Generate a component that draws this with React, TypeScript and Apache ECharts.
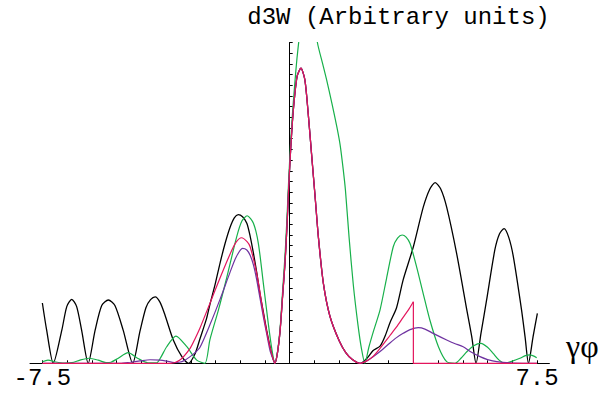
import * as echarts from "echarts";
import { useEffect, useRef } from "react";

// x ticks and labels
const xTickValues = [
  -7.5, -6.75, -6, -5.25, -4.5, -3.75, -3, -2.25, -1.5, -0.75, 0, 0.75, 1.5, 2.25, 3, 3.75, 4.5, 5.25,
  6, 6.75, 7.5,
];
const xLabelValues = [-7.5, 7.5];
const titleText = "d3W (Arbitrary units)";
const xName = "γφ";

// central lobe shared by black, red, purple
const mainPeak: number[][] = [
  [-0.37, 1.0], [-0.29, 3.1], [-0.21, 6.5], [-0.14, 9.5], [-0.08, 13.0], [-0.03, 16.5], [0.02, 19.5],
  [0.08, 22.5], [0.15, 25.0], [0.23, 26.9], [0.34, 27.6], [0.46, 26.5], [0.56, 23.4], [0.67, 19.3],
  [0.77, 15.6], [0.87, 11.8], [1.02, 7.5], [1.22, 4.4], [1.5, 2.1], [1.7, 1.0], [1.9, 0.35],
];

const blackLeft: number[][] = [
  [-7.5, 5.64], [-7.37, 3.1], [-7.17, 0], [-6.91, 3.1], [-6.76, 5.3], [-6.61, 5.98], [-6.46, 5.3],
  [-6.31, 3.1], [-6.11, 0], [-5.9, 3.1], [-5.7, 5.4], [-5.5, 5.92], [-5.3, 5.4], [-5.05, 3.1],
  [-4.76, 0], [-4.54, 3.0], [-4.36, 5.2], [-4.22, 5.95], [-4.08, 6.22], [-3.93, 5.7], [-3.78, 4.5],
  [-3.53, 2.18], [-3.27, 0.62], [-3.07, 0], [-2.87, 0.9], [-2.72, 2.3], [-2.52, 4.2], [-2.42, 5.5],
  [-2.26, 7.4], [-2.11, 9.4], [-1.96, 11.2], [-1.81, 12.7], [-1.68, 13.6], [-1.56, 13.9],
  [-1.43, 13.7], [-1.3, 13.1], [-1.2, 11.9], [-1.1, 10.3], [-1.0, 8.5], [-0.9, 6.5], [-0.8, 4.8],
  [-0.7, 3.1], [-0.6, 1.6], [-0.52, 0.6], [-0.45, 0],
];
const blackRight: number[][] = [
  [2.15, 0], [2.35, 0.5], [2.53, 1.2], [2.74, 1.6], [2.9, 2.6], [3.04, 3.8], [3.24, 5.2], [3.44, 7.8],
  [3.75, 10.9], [4.05, 14.6], [4.25, 16.3], [4.41, 16.9], [4.58, 16.3], [4.76, 14.6], [5.06, 10.3],
  [5.37, 5.0], [5.52, 2.5], [5.65, 0], [5.8, 2.8], [5.97, 5.9], [6.22, 10.6], [6.36, 12.1],
  [6.5, 12.6], [6.64, 11.8], [6.78, 10.0], [7.03, 5.0], [7.14, 2.4], [7.24, 0], [7.38, 2.5],
  [7.51, 4.67],
];

const redLeft: number[][] = [
  [-7.5, 0], [-3.6, 0], [-3.33, 0.3], [-3.02, 1.4], [-2.87, 2.3], [-2.72, 3.3], [-2.42, 5.6],
  [-2.11, 8.0], [-1.81, 10.2], [-1.63, 11.3], [-1.46, 11.74], [-1.3, 11.4], [-1.2, 10.9],
  [-1.0, 8.4], [-0.8, 4.7], [-0.7, 3.0], [-0.6, 1.55], [-0.52, 0.6], [-0.45, 0],
];
const redRight: number[][] = [
  [2.13, 0], [2.35, 0.25], [2.53, 0.65], [2.74, 1.4], [3.04, 2.6], [3.24, 3.4], [3.44, 4.3],
  [3.6, 5.0], [3.75, 5.76],
];
const redTail: number[][] = [[3.75, 5.76], [3.75, 0], [7.5, 0]];

const purpleLeft: number[][] = [
  [-7.5, 0], [-5.14, 0], [-4.84, 0.1], [-4.54, 0.22], [-4.23, 0.33], [-3.93, 0.3], [-3.72, 0.2],
  [-3.5, 0.07], [-3.35, 0.1], [-3.2, 0.25], [-3.03, 0.6], [-2.87, 1.0], [-2.72, 1.5], [-2.42, 3.6],
  [-2.11, 6.0], [-1.81, 8.5], [-1.63, 9.9], [-1.43, 10.75], [-1.3, 10.6], [-1.2, 10.1],
  [-1.1, 9.2], [-1.0, 7.8], [-0.8, 4.36], [-0.7, 2.8], [-0.6, 1.24], [-0.52, 0.5], [-0.45, 0],
];
const purpleRight: number[][] = [
  [2.13, 0], [2.35, 0.25], [2.53, 0.62], [2.74, 1.1], [3.04, 1.9], [3.24, 2.4], [3.44, 2.8],
  [3.65, 3.15], [3.9, 3.33], [4.1, 3.2], [4.35, 2.8], [4.76, 2.18], [5.0, 1.85], [5.26, 1.55],
  [5.5, 1.05], [5.77, 0.62], [6.0, 0.35], [6.28, 0.15], [6.78, 0.03], [7.5, 0],
];

const greenValues: number[][] = [
  [-7.5, 0.15], [-7.33, 0.3], [-7.09, 0.12], [-6.84, 0.02], [-6.6, 0.06], [-6.36, 0.3],
  [-6.09, 0.47], [-5.81, 0.3], [-5.57, 0.06], [-5.42, 0.1], [-5.21, 0.45], [-4.9, 1.0],
  [-4.6, 0.45], [-4.3, 0.05], [-4.03, 0.05], [-3.9, 0.6], [-3.73, 1.55], [-3.45, 2.55],
  [-3.12, 1.55], [-2.82, 0.3], [-2.57, 0], [-2.42, 2.2], [-2.16, 5.0], [-1.91, 8.0], [-1.61, 11.8],
  [-1.45, 13.3], [-1.29, 13.8], [-1.1, 13.1], [-0.95, 11.2], [-0.8, 7.5], [-0.65, 3.74],
  [-0.54, 1.3], [-0.45, 0], [-0.37, 1.1], [-0.29, 3.3], [-0.21, 7.0], [-0.14, 10.2], [-0.08, 13.8],
  [-0.03, 17.2], [0.02, 20.2], [0.08, 23.2], [0.15, 26.0], [0.22, 28.5], [0.29, 30.5], [0.4, 33.5],
  [0.55, 35], [0.7, 33.5], [0.84, 30], [1.0, 28.0], [1.12, 26.5], [1.28, 24.3], [1.43, 22.1],
  [1.53, 20.4], [1.62, 18.2], [1.69, 16.2], [1.8, 11.8], [1.93, 7.3], [2.07, 3.6], [2.18, 1.3],
  [2.28, 0], [2.4, 1.5], [2.55, 3.1], [2.74, 5.0], [2.94, 8.0], [3.14, 10.9], [3.27, 11.7],
  [3.41, 12.0], [3.53, 11.8], [3.65, 11.2], [3.85, 9.0], [4.05, 6.5], [4.25, 4.05], [4.51, 1.55],
  [4.76, 0.15], [5.01, 0], [5.2, 0.5], [5.37, 1.08], [5.58, 1.65], [5.8, 1.87], [6.0, 1.5],
  [6.17, 0.93], [6.35, 0.3], [6.53, 0], [6.75, 0.2], [6.98, 0.47], [7.15, 0.72], [7.29, 0.78],
  [7.49, 0.52],
];

const blackValues = [...blackLeft, ...mainPeak, ...blackRight];
const redValues = [...redLeft, ...mainPeak, ...redRight];
const purpleValues = [...purpleLeft, ...mainPeak, ...purpleRight];

export default function App() {
  const ref = useRef<HTMLDivElement>(null);
  useEffect(() => {
    const chart = echarts.init(ref.current!, null, { renderer: "svg", width: 610, height: 393 });
    const line = (
      name: string,
      data: number[][],
      color: string,
      width: number,
      z: number,
      smooth: number | false = 0.25,
    ) => ({
      name,
      type: "line",
      data,
      showSymbol: false,
      symbol: "none",
      clip: true,
      smooth,
      z,
      lineStyle: { color, width },
      emphasis: { disabled: true },
    });
    chart.setOption({
      animation: false,
      backgroundColor: "#ffffff",
      grid: { left: 30, right: 60.6, top: 42.5, bottom: 29.7, outerBoundsMode: "none" },
      xAxis: {
        type: "value",
        min: -7.875,
        max: 7.875,
        splitLine: { show: false },
        axisLine: { onZero: true, lineStyle: { color: "#000", width: 1 } },
        axisTick: { inside: true, length: 3, customValues: xTickValues, lineStyle: { color: "#000" } },
        axisLabel: {
          customValues: xLabelValues,
          margin: 3,
          color: "#000",
          fontFamily: "Liberation Mono",
          fontSize: 24,
          formatter: (v: number) => String(v),
        },
      },
      yAxis: {
        type: "value",
        min: 0,
        max: 30,
        interval: 1,
        splitLine: { show: false },
        axisLine: { onZero: true, lineStyle: { color: "#000", width: 1 } },
        axisTick: { inside: true, length: 3, lineStyle: { color: "#000" } },
        axisLabel: { show: false },
      },
      graphic: [
        {
          type: "text",
          x: 398.5,
          y: 17.6,
          style: {
            text: titleText,
            fontFamily: "Liberation Mono",
            fontSize: 24,
            fill: "#000",
            textAlign: "center",
            textVerticalAlign: "middle",
          },
        },
        {
          type: "text",
          x: 566,
          y: 345.7,
          style: {
            text: xName,
            fontFamily: "Liberation Serif",
            fontSize: 32,
            fill: "#000",
            textAlign: "left",
            textVerticalAlign: "middle",
          },
        },
      ],
      series: [
        line("black", blackValues, "#000000", 1.3, 2),
        line("green", greenValues, "#17b04a", 1.2, 3),
        line("purple", purpleValues, "#6e32a0", 1.2, 4),
        line("red", redValues, "#e3155c", 1.2, 5),
        line("red tail", redTail, "#e3155c", 1.2, 5, false),
      ],
    });
    return () => chart.dispose();
  }, []);
  return (
    <div
      ref={ref}
      style={{ position: "fixed", left: 0, top: 0, width: 610, height: 393, background: "#fff" }}
    />
  );
}
